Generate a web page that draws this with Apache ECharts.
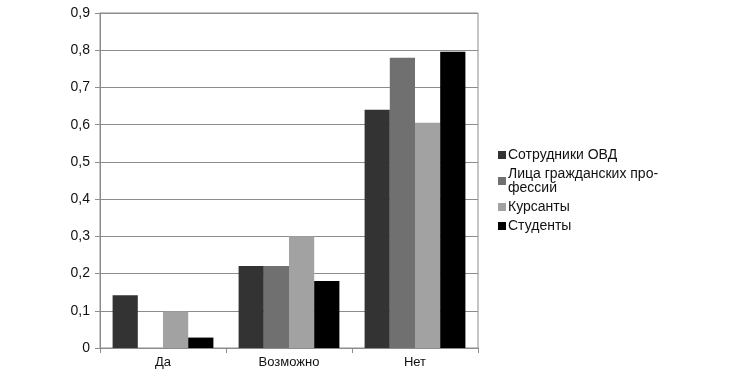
<!DOCTYPE html>
<html>
<head>
<meta charset="utf-8">
<script src="https://cdn.jsdelivr.net/npm/echarts@6/dist/echarts.min.js"></script>
<style>
  html, body { margin: 0; padding: 0; background: #fff; }
  #chart { width: 744px; height: 375px; }
</style>
</head>
<body>
<div id="chart"></div>
<script>
'use strict';

// данные
var categories = ['Да', 'Возможно', 'Нет'];
var seriesNames = ['Сотрудники ОВД', 'Лица гражданских про-\nфессий', 'Курсанты', 'Студенты'];
var officers = [0.142, 0.22, 0.64];
var civilians = [0, 0.22, 0.78];
var cadets = [0.098, 0.30, 0.605];
var students = [0.028, 0.18, 0.796];
var colors = ['#333333', '#707070', '#a2a2a2', '#000000'];

var values = [officers, civilians, cadets, students];

var myChart = echarts.init(document.querySelector('#chart'));

var series = values.map(function(data, i) {
    return {
        name: seriesNames[i],
        type: 'bar',
        data: data,
        barGap: '0%',
        barCategoryGap: '20%',
        itemStyle: { color: colors[i] }
    };
});

var option = {
    animation: false,
    textStyle: { fontFamily: 'Liberation Sans, Arial, sans-serif' },
    grid: {
        left: 100, right: 266, top: 13, bottom: 27,
        show: true, borderColor: '#8c8c8c', borderWidth: 1
    },
    legend: {
        orient: 'vertical',
        left: 493, top: 143,
        itemWidth: 8, itemHeight: 8, itemGap: 5,
        icon: 'rect',
        textStyle: { fontSize: 14, lineHeight: 14, color: '#111', padding: [0, 0, 0, -3] },
        data: seriesNames
    },
    xAxis: {
        type: 'category',
        data: categories,
        axisLine: { lineStyle: { color: '#8c8c8c' } },
        axisTick: { show: true, length: 5, lineStyle: { color: '#8c8c8c' } },
        axisLabel: { fontSize: 13, color: '#111', margin: 8 }
    },
    yAxis: {
        type: 'value',
        min: 0, max: 0.9, interval: 0.1,
        axisLine: { show: true, lineStyle: { color: '#8c8c8c' } },
        axisTick: { show: true, length: 5, lineStyle: { color: '#8c8c8c' } },
        splitLine: { lineStyle: { color: '#8c8c8c' } },
        axisLabel: {
            fontSize: 14, color: '#111', margin: 10,
            formatter: function(v) { return String(Math.round(v * 10) / 10).replace('.', ','); }
        }
    },
    series: series
};

myChart.setOption(option);
</script>
</body>
</html>
